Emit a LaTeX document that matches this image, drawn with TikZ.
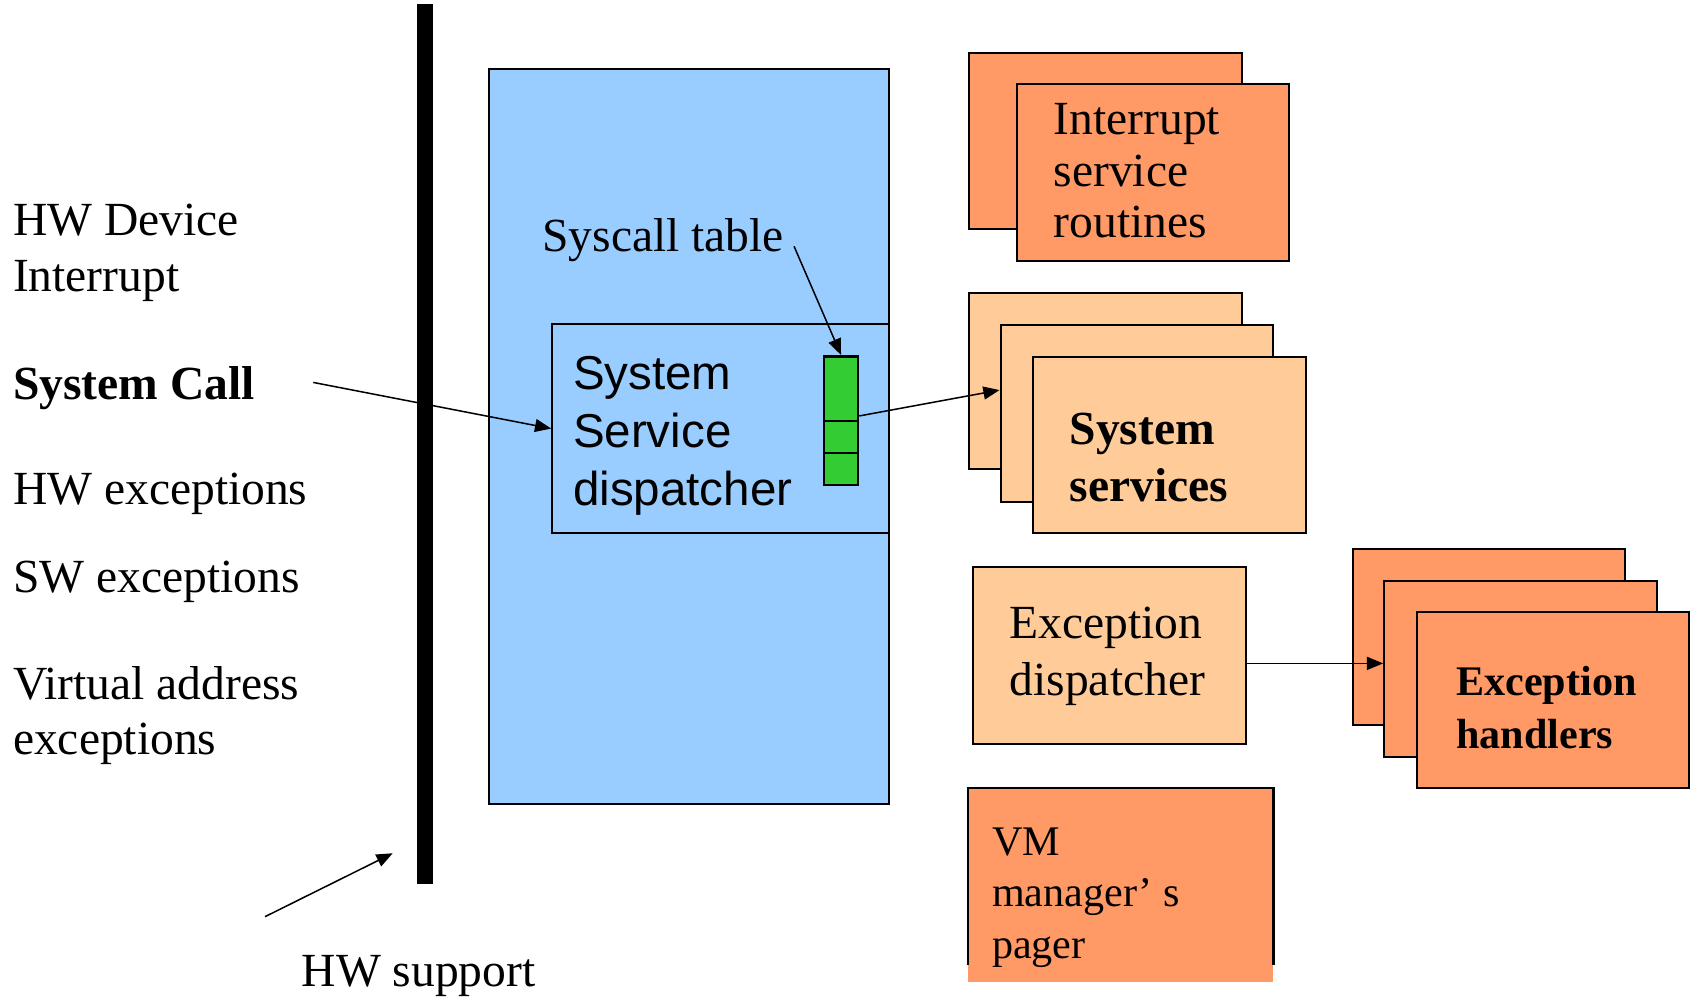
\documentclass[tikz,border=0pt]{standalone}
\usepackage{fontspec}
\setmainfont{Liberation Serif}
\setsansfont{Liberation Sans}
\usetikzlibrary{arrows.meta,fit}
\definecolor{kblue}{HTML}{99CCFF}
\definecolor{korange}{HTML}{FF9966}
\definecolor{klight}{HTML}{FFCC99}
\definecolor{kgreen}{HTML}{33CC33}
\begin{document}
\begin{tikzpicture}[x=0.5pt,y=-0.5pt,
  box/.style={draw=black,line width=1pt,inner sep=0pt},
  arr/.style={line width=0.7pt,-{Triangle[length=7.5pt,width=6pt]}},
  lbl/.style={inner sep=0pt,anchor=base west,align=left},
  serif/.style={font=\fontsize{22pt}{25.8pt}\selectfont}]
\useasboundingbox (0,0) rectangle (1568,925);

% hardware bar
\node[fill=black,inner sep=0pt,fit={(385.7,4) (400.5,818)}] (bar) {};

% kernel box and dispatcher
\node[box,fill=kblue,fit={(453,63.5) (823,744.2)}] (kernel) {};
\node[box,fill=kblue,fit={(511.2,300.2) (823,493.2)}] (disp) {};
\node[box,fill=kgreen,fit={(763,330) (794,389.4)}] (cell1) {};
\node[box,fill=kgreen,fit={(763,389.4) (794,419)}] (cell2) {};
\node[box,fill=kgreen,fit={(763,419) (794,449)}] (cell3) {};
\node[inner sep=0pt,fit=(cell1)(cell3)] (table) {};

% interrupt service routines
\node[box,fill=korange,fit={(896.9,48.8) (1149.3,212)}] (isr1) {};
\node[box,fill=korange,fit={(941,78) (1193.3,241.6)}] (isr2) {};

% system services
\node[box,fill=klight,fit={(896.9,270.9) (1149.3,434.1)}] (ss1) {};
\node[box,fill=klight,fit={(926.2,300.8) (1178.5,464.3)}] (ss2) {};
\node[box,fill=klight,fit={(955.8,330.1) (1208.5,493)}] (ss3) {};

% exception dispatcher
\node[box,fill=klight,fit={(900.4,525.1) (1153.5,688.6)}] (ed) {};

% exception handlers
\node[box,fill=korange,fit={(1252,508.1) (1504.1,671.1)}] (eh1) {};
\node[box,fill=korange,fit={(1281.3,537.5) (1534,700.4)}] (eh2) {};
\node[box,fill=korange,fit={(1311.3,566.7) (1563.6,729.6)}] (eh3) {};

% VM manager's pager
\node[fill=korange,inner sep=0pt,fit={(896.2,729.6) (1178.4,908.6)}] (vm) {};
\draw[line width=1pt] ([yshift=7.7pt]vm.south west) -- (vm.north west) -- (vm.north east) -- ([yshift=7.7pt]vm.south east);

% texts (base anchor = baseline of last line)
\node[lbl,serif] (hwdev) at (11.7,270) {HW Device\\Interrupt};
\node[lbl,font=\fontsize{22pt}{26pt}\selectfont\bfseries] (sc) at (11.7,369.6) {System Call};
\node[lbl,serif] (hwex) at (11.7,467.4) {HW exceptions};
\node[lbl,serif] (swex) at (11.7,548.6) {SW exceptions};
\node[lbl,serif] (vaex) at (11.7,698.8) {Virtual address\\exceptions};
\node[lbl,serif] (hwsup) at (279,913) {HW support};
\node[lbl,serif] (sctab) at (501.6,233) {Syscall table};
\node[lbl,font=\fontsize{22pt}{26.9pt}\sffamily\selectfont] (dtext) at (530,467.8) {System\\Service\\dispatcher};
\node[lbl,font=\fontsize{22pt}{23.7pt}\selectfont] (isrt) at (975,219.7) {Interrupt\\service\\routines};
\node[lbl,font=\fontsize{22pt}{26.65pt}\selectfont\bfseries] (sst) at (989.8,464.3) {System\\services};
\node[lbl,font=\fontsize{22pt}{26.4pt}\selectfont] (edt) at (934.2,644.2) {Exception\\dispatcher};
\node[lbl,font=\fontsize{19.5pt}{24.35pt}\selectfont\bfseries] (eht) at (1347.6,692.6) {Exception\\handlers};
\node[lbl,font=\fontsize{19.5pt}{23.9pt}\selectfont] (vmt) at (917.9,887) {VM\\manager’ s\\pager};

% connectors
\coordinate (scfrom) at (290,354);
\draw[arr] (scfrom) -- (disp.west);
\coordinate (tabfrom) at (735,228);
\draw[arr] (tabfrom) -- (table.north);
\draw[arr] ([yshift=2.25pt]table.east) -- ([yshift=10.75pt]ss2.west);
\draw[arr] ([yshift=-3.6pt]ed.east) -- ([yshift=-3.6pt]ed.east -| eh2.west);
\coordinate (hwfrom) at (245.3,848.5);
\coordinate (hwto) at (363.5,789.8);
\draw[arr] (hwfrom) -- (hwto);
\end{tikzpicture}
\end{document}
